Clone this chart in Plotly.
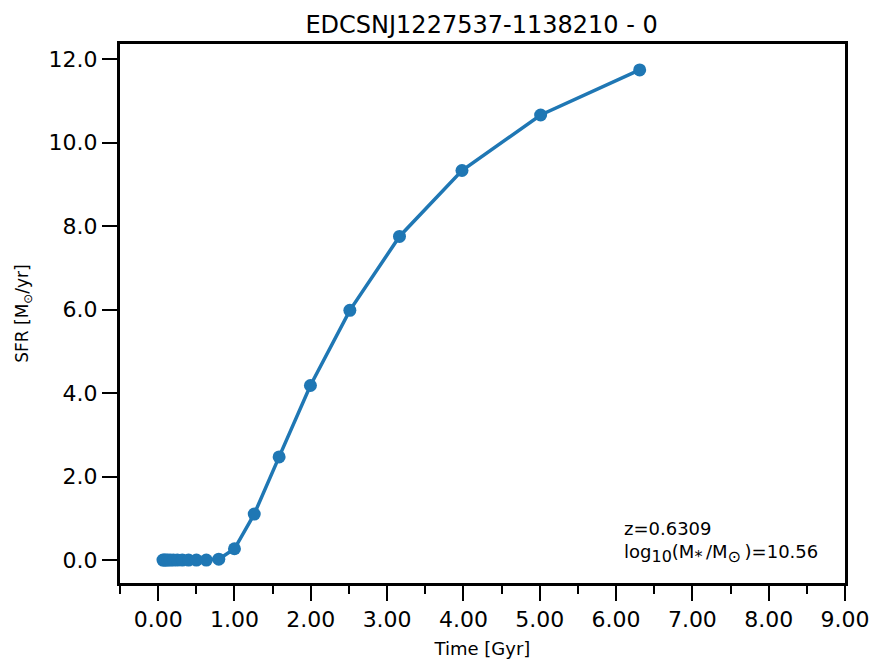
import plotly.graph_objects as go

time_gyr = [0.0631, 0.0794, 0.1, 0.1259, 0.1585, 0.1995, 0.2512, 0.3162, 0.3981,
            0.5012, 0.631, 0.7943, 1.0, 1.2589, 1.5849, 1.9953, 2.5119, 3.1623,
            3.9811, 5.0119, 6.3096]
sfr = [0.0, 0.0, 0.0, 0.0, 0.0, 0.0, 0.0, 0.0, 0.0,
       0.0, 0.0, 0.02, 0.27, 1.10, 2.47, 4.18, 5.98, 7.75,
       9.33, 10.66, 11.74]

title = "EDCSNJ1227537-1138210 - 0"
redshift = "z=0.6309"
sub = "<sub><span style='font-size:16px'>{}</span></sub>"
logmass = ("log" + sub.format("10") + "(M" + sub.format("*") + "\u2009/M"
           + sub.format("⊙") + "\u2009)=10.56")

color = "#1f77b4"
font = "DejaVu Sans"

fig = go.Figure()
fig.add_trace(go.Scatter(
    x=time_gyr, y=sfr, mode="lines+markers",
    line=dict(color=color, width=3.5),
    marker=dict(color=color, size=13),
    showlegend=False,
))

fig.add_annotation(
    x=0.693, y=0.027, xref="paper", yref="paper",
    xanchor="left", yanchor="bottom", align="left",
    text=redshift + "<br>" + logmass, showarrow=False,
    font=dict(family=font, size=18, color="black"),
)

fig.update_layout(
    width=874, height=659,
    margin=dict(l=120, r=29, t=44, b=76),
    paper_bgcolor="white", plot_bgcolor="white",
    font=dict(family=font, color="black"),
    title=dict(text=title, x=0.551, xanchor="center", y=0.963, yanchor="middle",
               font=dict(family=font, size=24, color="black")),
    xaxis=dict(
        range=[-0.5, 9.0], dtick=1, tick0=0, tickformat=".2f", automargin=False,
        ticks="outside", ticklen=15, tickwidth=2, tickcolor="black",
        showline=True, linewidth=3, linecolor="black", mirror=True,
        showgrid=False, zeroline=False,
        tickfont=dict(family=font, size=22, color="black"),
        minor=dict(dtick=0.5, tick0=0, ticks="outside", ticklen=8, tickwidth=2,
                   tickcolor="black", showgrid=False),
        title=dict(text="Time [Gyr]", font=dict(family=font, size=18, color="black"),
                   standoff=14),
    ),
    yaxis=dict(
        range=[-0.55, 12.36], dtick=2, tick0=0, tickformat=".1f", automargin=False,
        ticks="outside", ticklen=15, tickwidth=2, tickcolor="black",
        showline=True, linewidth=3, linecolor="black", mirror=True,
        showgrid=False, zeroline=False,
        tickfont=dict(family=font, size=22, color="black"),
        title=dict(text="SFR [M<sub>⊙</sub>/yr]", font=dict(family=font, size=17, color="black"),
                   standoff=16),
    ),
)

fig.write_html("out.html")
